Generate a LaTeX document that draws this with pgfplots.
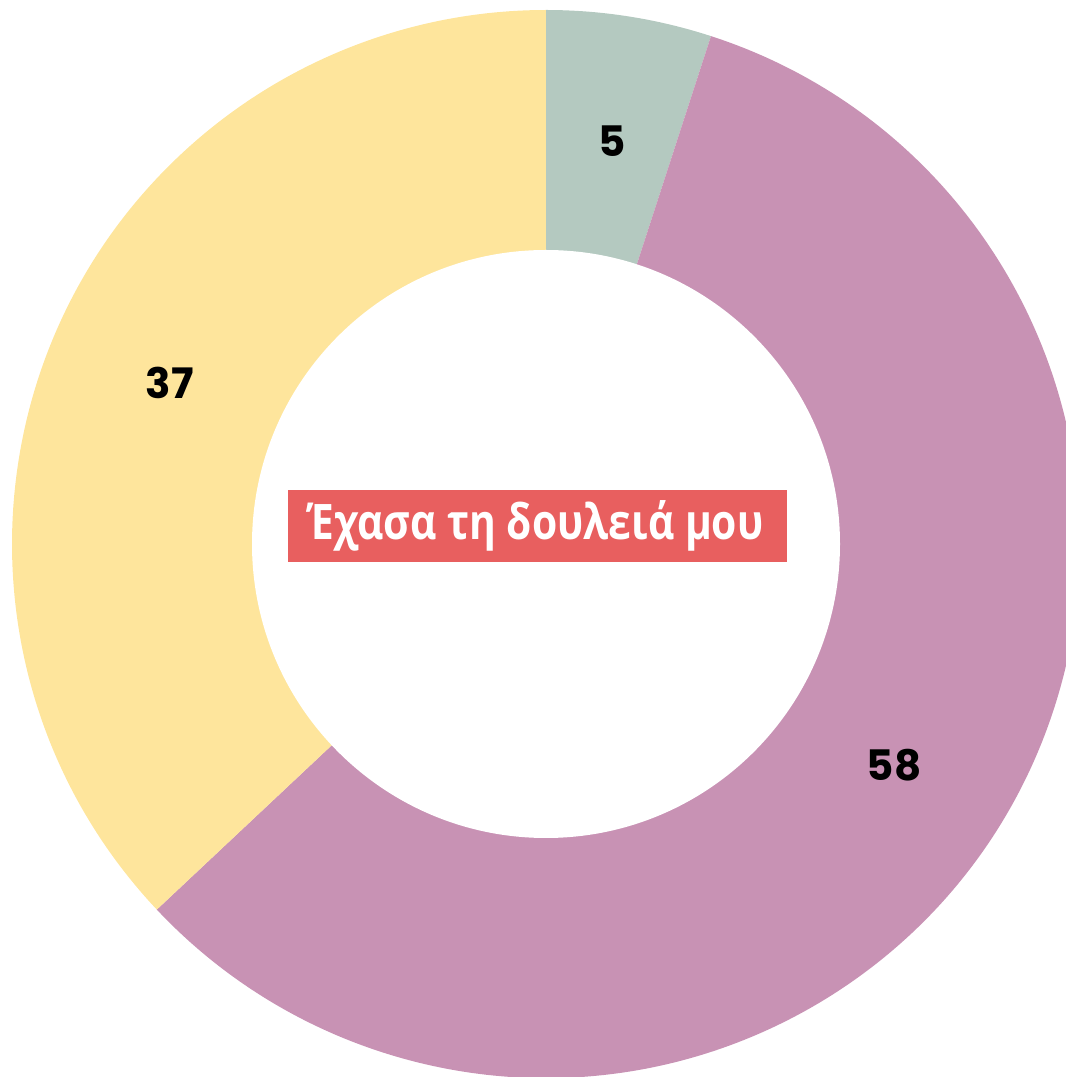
\documentclass[border=0pt]{standalone}
\usepackage{pgfplots}
\usepackage{pgfplotstable}
\pgfplotsset{compat=1.18}
\usetikzlibrary{calc}
\usepackage{fontspec}
\setmainfont{Open Sans}
\newfontfamily\numfont{Poppins}
\definecolor{cA}{HTML}{B4C9C0}
\definecolor{cB}{HTML}{C892B4}
\definecolor{cC}{HTML}{FEE59C}
\definecolor{cBox}{HTML}{E85F5F}
\pgfplotstableread{
slice value
A 5
B 58
C 37
}\donutdata
\begin{document}
\begin{tikzpicture}
\useasboundingbox (0,0) rectangle (533pt,538.5pt);
\pgfplotstablegetelem{0}{value}\of\donutdata \let\vA\pgfplotsretval
\pgfplotstablegetelem{1}{value}\of\donutdata \let\vB\pgfplotsretval
\pgfplotstablegetelem{2}{value}\of\donutdata \let\vC\pgfplotsretval
\pgfmathsetmacro\tot{\vA+\vB+\vC}
\pgfmathsetmacro\aA{90}
\pgfmathsetmacro\aB{\aA-360*(\vA/\tot)}
\pgfmathsetmacro\aC{\aB-360*(\vB/\tot)}
\pgfmathsetmacro\aD{\aC-360*(\vC/\tot)}
\pgfmathsetmacro\mA{(\aA+\aB)/2}
\pgfmathsetmacro\mB{(\aB+\aC)/2}
\pgfmathsetmacro\mC{(\aC+\aD)/2}
\begin{axis}[
  x=0.5pt, y=0.5pt,
  xmin=0, xmax=1066, ymin=0, ymax=1077,
  hide axis, clip=true,
  anchor=origin, at={(0,0)},
]
\fill[cA] (axis cs:546,533) -- ++(\aA:267pt) arc[start angle=\aA, end angle=\aB, radius=267pt] -- cycle;
\fill[cB] (axis cs:546,533) -- ++(\aB:267pt) arc[start angle=\aB, end angle=\aC, radius=267pt] -- cycle;
\fill[cC] (axis cs:546,533) -- ++(\aC:267pt) arc[start angle=\aC, end angle=\aD, radius=267pt] -- cycle;
\fill[white] (axis cs:546,533) circle[radius=147pt];
\node[font=\numfont\bfseries\fontsize{21pt}{25pt}\selectfont] at ($(axis cs:548,531)+(\mA:205pt)$) {\vA};
\node[font=\numfont\bfseries\fontsize{21pt}{25pt}\selectfont] at ($(axis cs:548,531)+(\mB:205pt)$) {\vB};
\node[font=\numfont\bfseries\fontsize{21pt}{25pt}\selectfont] at ($(axis cs:546,531)+(\mC:205pt)$) {\vC};
\fill[cBox] (axis cs:288,515) rectangle (axis cs:787,587);
\node[text=white, font=\bfseries\fontsize{20.4pt}{24pt}\selectfont] at (axis cs:536,551) {\scalebox{1}[1.2]{Έχασα τη δουλειά μου}};
\end{axis}
\end{tikzpicture}
\end{document}
